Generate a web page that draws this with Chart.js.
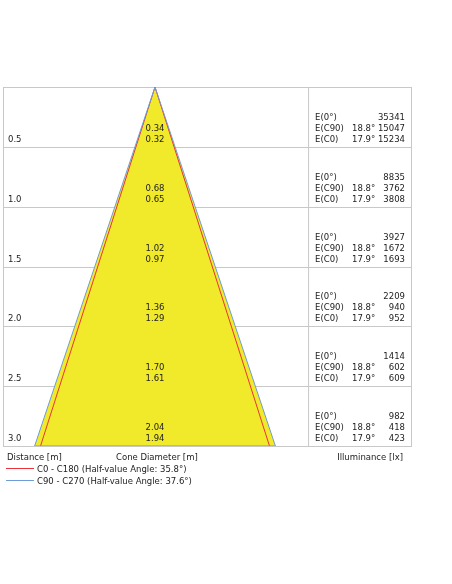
<!DOCTYPE html>
<html>
<head>
<meta charset="utf-8">
<style>
  html, body { margin: 0; padding: 0; background: #fff; }
  #wrap { width: 452px; height: 584px; }
</style>
<script src="https://cdn.jsdelivr.net/npm/chart.js@4/dist/chart.umd.min.js"></script>
</head>
<body>
<div id="wrap"><canvas id="cone"></canvas></div>
<script>
// distances in metres and cone diameters
const distances = [0.5, 1.0, 1.5, 2.0, 2.5, 3.0];
const diameterC90 = [0.34, 0.68, 1.02, 1.36, 1.70, 2.04];
const diameterC0 = [0.32, 0.65, 0.97, 1.29, 1.61, 1.94];
// illuminance table
const eCentre = [35341, 8835, 3927, 2209, 1414, 982];
const eC90 = [15047, 3762, 1672, 940, 602, 418];
const eC0 = [15234, 3808, 1693, 952, 609, 423];
const angleC90 = "18.8°";
const angleC0 = "17.9°";
const legendLabels = ["C0 - C180 (Half-value Angle: 35.8°)", "C90 - C270 (Half-value Angle: 37.6°)"];

const last = distances.length - 1;
const halfBlue = diameterC90[last] / 2;
const halfRed = diameterC0[last] / 2;
const maxD = distances[last];

const FONT = "8.5px 'DejaVu Sans', sans-serif";
const fmt = v => v.toFixed(2);

const overlay = {
  id: "overlay",
  beforeDatasetsDraw(chart) {
    const { ctx, chartArea: a, scales: { x, y } } = chart;
    const divX = x.getPixelForValue(1.297);
    ctx.save();
    ctx.strokeStyle = "#c8c8c8";
    ctx.lineWidth = 1;
    distances.forEach(d => {
      const py = Math.round(y.getPixelForValue(d)) + 0.5;
      ctx.beginPath(); ctx.moveTo(a.left, py); ctx.lineTo(a.right, py); ctx.stroke();
    });
    ctx.beginPath(); ctx.moveTo(divX + 0.5, a.top); ctx.lineTo(divX + 0.5, a.bottom); ctx.stroke();
    ctx.strokeRect(a.left + 0.5, a.top + 0.5, a.right - a.left, a.bottom - a.top);
    // cone fill from the blue dataset's points
    const pts = chart.getDatasetMeta(0).data;
    ctx.fillStyle = "#f1ea2a";
    ctx.beginPath();
    pts.forEach((p, i) => (i ? ctx.lineTo(p.x, p.y) : ctx.moveTo(p.x, p.y)));
    ctx.closePath();
    ctx.fill();
    ctx.restore();
  },
  afterDatasetsDraw(chart) {
    const { ctx, chartArea: a, scales: { x, y } } = chart;
    const divX = x.getPixelForValue(1.297);
    ctx.save();
    ctx.font = FONT;
    ctx.fillStyle = "#222";
    ctx.textBaseline = "alphabetic";
    const cx = x.getPixelForValue(0);
    distances.forEach((d, i) => {
      const py = y.getPixelForValue(d);
      ctx.textAlign = "left";
      ctx.fillText(d.toFixed(1), a.left + 5, py - 5);
      ctx.textAlign = "center";
      ctx.fillText(fmt(diameterC90[i]), cx, py - 16);
      ctx.fillText(fmt(diameterC0[i]), cx, py - 5);
      ctx.textAlign = "left";
      ctx.fillText("E(0°)", divX + 7, py - 27);
      ctx.fillText("E(C90)", divX + 7, py - 16);
      ctx.fillText("E(C0)", divX + 7, py - 5);
      ctx.fillText(angleC90, divX + 44, py - 16);
      ctx.fillText(angleC0, divX + 44, py - 5);
      ctx.textAlign = "right";
      ctx.fillText(String(eCentre[i]), a.right - 6, py - 27);
      ctx.fillText(String(eC90[i]), a.right - 6, py - 16);
      ctx.fillText(String(eC0[i]), a.right - 6, py - 5);
    });
    const fy = a.bottom + 14;
    ctx.textAlign = "left";
    ctx.fillText("Distance [m]", a.left + 4, fy);
    ctx.fillText("Cone Diameter [m]", a.left + 113, fy);
    ctx.textAlign = "right";
    ctx.fillText("Illuminance [lx]", a.right - 8, fy);
    ctx.textAlign = "left";
    const colors = ["#e8333a", "#6f9bd8"];
    legendLabels.forEach((t, i) => {
      const ly = fy + 12 * (i + 1);
      ctx.strokeStyle = colors[i];
      ctx.beginPath(); ctx.moveTo(a.left + 3, ly - 3.5); ctx.lineTo(a.left + 31, ly - 3.5); ctx.stroke();
      ctx.fillText(t, a.left + 34, ly);
    });
    ctx.restore();
  }
};

new Chart(document.getElementById("cone"), {
  type: "scatter",
  plugins: [overlay],
  data: {
    datasets: [
      {
        data: [{ x: 0, y: 0 }, { x: halfBlue, y: maxD }, { x: -halfBlue, y: maxD }, { x: 0, y: 0 }],
        showLine: true, fill: false, borderColor: "#6f9bd8", borderWidth: 1, pointRadius: 0, tension: 0
      },
      {
        data: [{ x: -halfRed, y: maxD }, { x: 0, y: 0 }, { x: halfRed, y: maxD }],
        showLine: true, fill: false, borderColor: "#e8333a", borderWidth: 1, pointRadius: 0, tension: 0
      }
    ]
  },
  options: {
    responsive: true,
    maintainAspectRatio: false,
    animation: false,
    layout: { padding: { left: 3, top: 87, right: 41, bottom: 138 } },
    plugins: { legend: { display: false }, tooltip: { enabled: false } },
    scales: {
      x: { type: "linear", min: -1.288, max: 2.169, display: false },
      y: { type: "linear", min: 0, max: maxD, reverse: true, display: false }
    }
  }
});
</script>
</body>
</html>
